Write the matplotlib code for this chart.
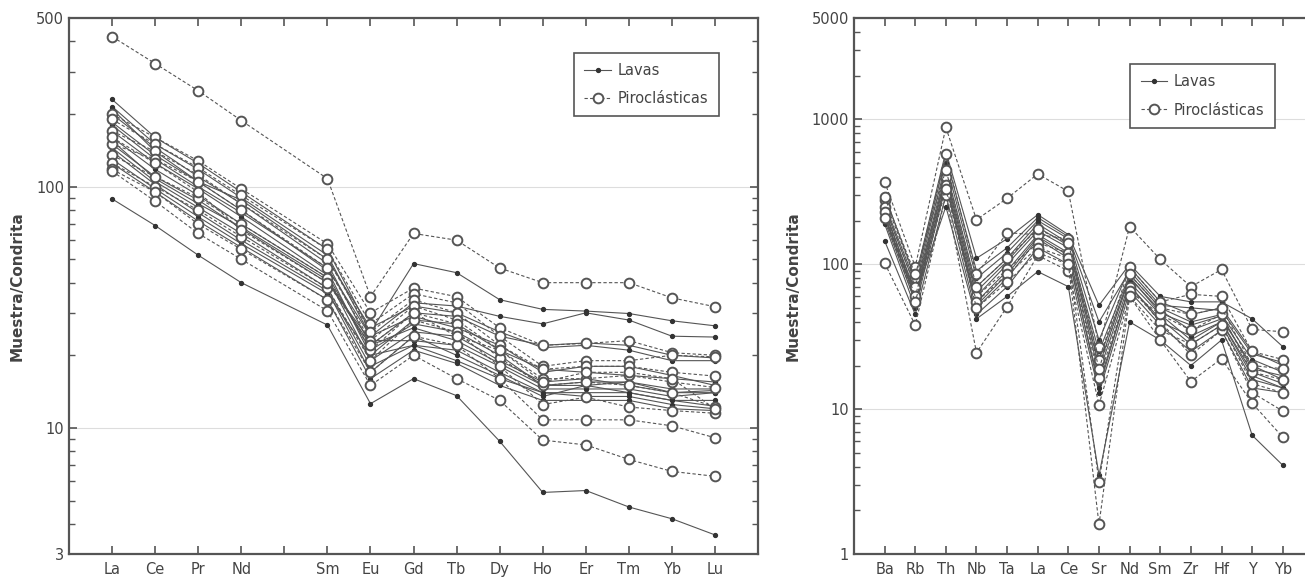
import numpy as np
import matplotlib
matplotlib.use("Agg")
import matplotlib.pyplot as plt
from matplotlib.ticker import FixedLocator, NullFormatter
from matplotlib.lines import Line2D

# left panel: REE normalised to chondrite
ree = ["La", "Ce", "Pr", "Nd", "", "Sm", "Eu", "Gd", "Tb", "Dy", "Ho", "Er", "Tm", "Yb", "Lu"]
ree_x = [1, 2, 3, 4, 6, 7, 8, 9, 10, 11, 12, 13, 14, 15]  # Pm (5) left empty

ree_lavas = [
    [89, 69, 52, 40, 26.7, 12.6, 16, 13.6, 8.8, 5.4, 5.5, 4.7, 4.2, 3.6],
    [230, 160, 125, 95, 55, 25, 48, 44, 34, 31, 30.5, 29.8, 27.8, 26.5],
    [215, 150, 118, 90, 52, 24, 33, 32, 29, 27, 30, 28, 24, 23.8],
    [200, 145, 110, 85, 48, 22, 30, 29, 24, 22, 22.5, 22, 20, 19.5],
    [185, 135, 105, 80, 45, 20, 28, 27, 21, 17.5, 17, 16.5, 16, 15.5],
    [170, 125, 98, 75, 43, 21, 27, 25, 20, 15, 15.5, 15.5, 14.5, 14.5],
    [160, 118, 92, 70, 42, 19, 25, 24, 19, 15.5, 16, 15, 14, 14.3],
    [150, 110, 88, 67, 40, 23, 23, 22, 18, 14.5, 14.5, 14.5, 13.5, 14],
    [145, 105, 82, 64, 38, 18, 22, 21, 17, 14, 14, 14, 13, 13],
    [140, 102, 78, 60, 37, 17, 24, 20, 16.5, 13.5, 15, 14, 13, 12.3],
    [130, 98, 75, 58, 36, 20, 22, 19, 16, 14, 13.5, 13.5, 12.5, 12],
    [125, 95, 72, 56, 34, 16, 21, 18.5, 15, 13, 13, 13, 12, 11.8],
    [210, 140, 105, 88, 50, 26, 32, 30, 25, 21.5, 22, 21, 19, 19],
    [180, 130, 100, 78, 46, 24, 29, 26, 22, 17, 18, 18, 16.5, 15],
    [155, 108, 85, 68, 41, 22, 26, 23, 18.5, 15, 15, 15.5, 14, 14],
]

ree_piro = [
    [419, 324, 250, 188, 108, 35, 64, 60, 46, 40, 40, 40, 34.6, 31.8],
    [200, 160, 128, 98, 58, 30, 38, 35, 26, 22, 22.4, 23, 20.5, 20],
    [190, 150, 120, 92, 55, 27, 36, 33, 24, 18, 19, 19, 20, 19.7],
    [170, 140, 112, 85, 50, 25, 34, 30, 22, 17.5, 18, 18, 17, 16.4],
    [150, 130, 105, 80, 46, 23, 32, 28, 21, 16, 16, 16.5, 15.5, 14.7],
    [135, 110, 90, 70, 42, 21, 30, 27, 19.5, 15, 15.5, 15, 14, 12.2],
    [125, 100, 80, 62, 38, 19, 28, 25, 18, 12.5, 13.4, 12.2, 11.8, 11.5],
    [118, 95, 70, 55, 34, 17, 24, 22, 16, 10.8, 10.8, 10.8, 10.2, 9.1],
    [116, 87, 64, 50, 30.6, 15, 20, 16, 13, 8.9, 8.5, 7.4, 6.6, 6.3],
    [160, 125, 95, 66, 40, 22, 30, 24, 21, 15.5, 17, 17, 16, 12],
]

# right panel: spider diagram
spider = ["Ba", "Rb", "Th", "Nb", "Ta", "La", "Ce", "Sr", "Nd", "Sm", "Zr", "Hf", "Y", "Yb"]

spider_lavas = [
    [300, 80, 600, 110, 150, 220, 160, 52, 100, 60, 55, 55, 42, 27],
    [250, 70, 500, 80, 120, 200, 150, 30, 95, 55, 45, 50, 25, 20],
    [230, 65, 450, 70, 110, 190, 140, 25, 85, 50, 40, 45, 22, 18],
    [210, 60, 400, 60, 100, 170, 130, 20, 80, 48, 35, 42, 20, 16],
    [200, 55, 380, 55, 90, 160, 120, 18, 75, 45, 30, 40, 18, 15],
    [190, 50, 350, 50, 80, 150, 110, 15, 70, 42, 28, 38, 16, 14],
    [145, 45, 300, 45, 70, 130, 100, 13, 65, 38, 25, 35, 14, 13],
    [220, 60, 250, 42, 60, 89, 70, 3.5, 40, 30, 20, 30, 6.6, 4.1],
    [260, 75, 550, 90, 130, 210, 155, 40, 90, 52, 50, 48, 24, 21],
    [240, 62, 420, 65, 105, 180, 135, 22, 82, 46, 38, 44, 19, 17],
    [215, 58, 360, 52, 85, 155, 115, 14, 72, 40, 32, 40, 17, 14],
]

spider_piro = [
    [372, 96, 880, 203, 285, 420, 318, 27, 182, 108, 70, 92, 35.5, 34.2],
    [279, 80, 573, 85, 165, 160, 150, 22, 95, 55, 62, 60, 25, 22],
    [102, 38, 300, 24.5, 51, 115, 90, 10.7, 60, 30, 15.5, 22.3, 11, 6.4],
    [250, 70, 400, 60, 92, 140, 120, 16.5, 70, 40, 23.7, 35, 13, 9.7],
    [230, 60, 350, 55, 85, 130, 110, 3.15, 65, 45, 35, 45, 18, 16],
    [210, 55, 330, 50, 75, 120, 100, 1.6, 60, 35, 28, 38, 15, 13],
    [290, 85, 450, 70, 110, 175, 140, 19, 85, 50, 45, 50, 20, 19],
]

LINE = "#555555"
TXT = "#444444"

lava_style = dict(color=LINE, lw=0.8, ls="-", marker="o", ms=2.8,
                  mfc="#333333", mec="#333333")
piro_style = dict(color=LINE, lw=0.8, ls=(0, (3, 2)), marker="o", ms=7,
                  mfc="white", mec="#555555", mew=1.4)


def style_axes(ax, majors, major_labels, minors, xticks, xlabels, xlim):
    ax.set_yscale("log")
    ax.set_xlim(*xlim)
    ax.set_ylim(majors[0], majors[-1])
    ax.yaxis.set_major_locator(FixedLocator(majors))
    ax.set_yticklabels(major_labels)
    ax.yaxis.set_minor_locator(FixedLocator(minors))
    ax.yaxis.set_minor_formatter(NullFormatter())
    ax.set_xticks(xticks)
    ax.set_xticklabels(xlabels)
    ax.tick_params(which="both", direction="in", top=True, right=True,
                   colors="#555555", labelcolor=TXT, labelsize=10.5)
    ax.tick_params(which="major", length=6, width=1.2)
    ax.tick_params(which="minor", length=4, width=1.0)
    ax.tick_params(axis="x", pad=6)
    for s in ax.spines.values():
        s.set_color("#555555")
        s.set_linewidth(1.6)
    ax.yaxis.grid(True, which="major", color="#dddddd", lw=0.8)
    ax.set_axisbelow(True)
    ax.set_ylabel("Muestra/Condrita", fontsize=11, fontweight="bold",
                  color="#444444", labelpad=8)


fig = plt.figure(figsize=(13.05, 5.8), dpi=100)
ax1 = fig.add_axes([0.0529, 0.0448, 0.528, 0.924])
# right panel runs past the figure edge, as in the cropped original
ax2 = fig.add_axes([0.6544, 0.0448, 0.3755, 0.924])

for row in ree_lavas:
    ax1.plot(ree_x, row, **lava_style)
for row in ree_piro:
    ax1.plot(ree_x, row, **piro_style)

style_axes(ax1, [3, 10, 100, 500], ["3", "10", "100", "500"],
           [4, 5, 6, 7, 8, 9, 20, 30, 40, 50, 60, 70, 80, 90, 200, 300, 400],
           list(range(1, 16)), ree, (0, 16))

sp_x = list(range(1, len(spider) + 1))
for row in spider_lavas:
    ax2.plot(sp_x, row, **lava_style)
for row in spider_piro:
    ax2.plot(sp_x, row, **piro_style)

style_axes(ax2, [1, 10, 100, 1000, 5000], ["1", "10", "100", "1000", "5000"],
           [2, 3, 4, 5, 6, 7, 8, 9, 20, 30, 40, 50, 60, 70, 80, 90,
            200, 300, 400, 500, 600, 700, 800, 900, 2000, 3000, 4000],
           sp_x + [15], spider + [""], (0, 16))
# right edge of this panel is cut off in the original
ax2.spines["right"].set_visible(False)
ax2.tick_params(which="both", right=False)

handles = [Line2D([], [], **lava_style), Line2D([], [], **piro_style)]
labels = ["Lavas", "Piroclásticas"]
for ax, anchor in ((ax1, (0.943, 0.935)), (ax2, (0.859, 0.914))):
    leg = ax.legend(handles, labels, loc="upper right", bbox_to_anchor=anchor,
                    borderaxespad=0, fancybox=False, framealpha=1,
                    edgecolor="#555555", fontsize=10.5, handlelength=1.8,
                    borderpad=0.7, labelspacing=0.9, handletextpad=0.5)
    leg.get_frame().set_linewidth(1.2)
    for t in leg.get_texts():
        t.set_color(TXT)

fig.savefig("out.png", dpi=100)
